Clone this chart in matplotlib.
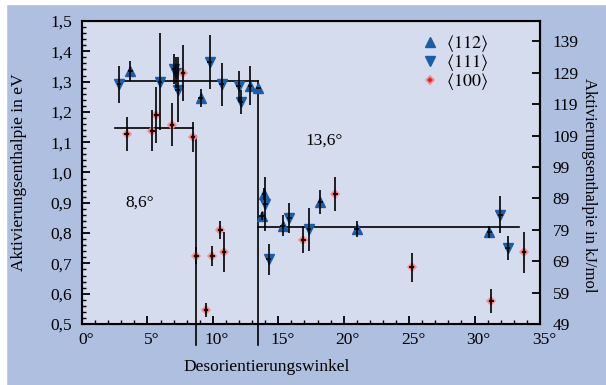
import matplotlib
matplotlib.use("Agg")
import matplotlib.pyplot as plt
import matplotlib.transforms as mtransforms
from matplotlib.ticker import MultipleLocator, FuncFormatter
from matplotlib.patches import Rectangle

plt.rcParams['font.family'] = ['Liberation Serif', 'DejaVu Serif']
plt.rcParams['mathtext.fontset'] = 'stix'

# <112> tilt boundaries (up triangles)
x112 = [3.69, 9.07, 12.84, 13.48, 13.74, 13.9, 15.34, 18.2, 21.0, 31.14]
y112 = [1.335, 1.246, 1.287, 1.279, 0.856, 0.928, 0.824, 0.903, 0.813, 0.804]
e112 = [0.034, 0.03, 0.064, 0.0, 0.012, 0.02, 0.035, 0.04, 0.026, 0.02]

# <111> (down triangles)
x111 = [2.83, 5.96, 7.03, 7.2, 7.3, 9.76, 10.68, 11.98, 12.16, 14.0, 14.27, 15.85, 17.35, 31.98, 32.54]
y111 = [1.291, 1.30, 1.342, 1.33, 1.273, 1.364, 1.291, 1.284, 1.232, 0.896, 0.713, 0.85, 0.812, 0.861, 0.751]
e111 = [0.06, 0.16, 0.05, 0.05, 0.107, 0.09, 0.07, 0.05, 0.04, 0.09, 0.05, 0.05, 0.07, 0.06, 0.04]

# <100> (red diamonds)
x100 = [3.41, 5.38, 5.68, 6.88, 7.72, 8.49, 8.74, 9.48, 9.96, 10.58, 10.86, 16.92, 19.37, 25.2, 31.27, 33.77]
y100 = [1.127, 1.138, 1.189, 1.158, 1.329, 1.118, 0.726, 0.546, 0.726, 0.809, 0.738, 0.778, 0.928, 0.687, 0.577, 0.737]
e100 = [0.056, 0.067, 0.093, 0.07, 0.092, 0.05, 0.027, 0.023, 0.033, 0.03, 0.066, 0.045, 0.056, 0.047, 0.04, 0.068]

# mean levels (y, x start, x end) and transition angles
levels = [(1.303, 2.65, 13.45), (1.146, 2.5, 8.5), (0.819, 13.45, 33.4)]
transitions = [(8.7, 1.12, '8,6°', 4.4, 0.90), (13.45, 1.303, '13,6°', 18.5, 1.105)]

blue = '#1a5ea8'
red = '#e8202a'
fig_bg = '#afbfe0'
ax_bg = '#d5dcee'

fig = plt.figure(figsize=(6.06, 3.85), dpi=100)
fig.patch.set_facecolor(fig_bg)
# thin white margin on left and top
fig.patches.append(Rectangle((0, 0), 6 / 606, 1, transform=fig.transFigure, color='white', zorder=-1))
fig.patches.append(Rectangle((0, 1 - 4 / 385), 1, 4 / 385, transform=fig.transFigure, color='white', zorder=-1))

ax = fig.add_axes([82 / 606, 61 / 385, 458 / 606, 303 / 385])
ax.set_facecolor(ax_bg)
ax.set_xlim(0, 35)
ax.set_ylim(0.5, 1.5)

for y, x0, x1 in levels:
    ax.plot([x0, x1], [y, y], color='black', lw=1.2, zorder=2)
for xv, ytop, lab, tx, ty in transitions:
    ax.plot([xv, xv], [ytop, 0.43], color='black', lw=1.2, zorder=2, clip_on=False)
    ax.text(tx, ty, lab, fontsize=12.5, ha='center', va='center')

err_kw = dict(fmt='none', ecolor='black', elinewidth=1.2, capsize=0, zorder=4)
ax.errorbar(x112, y112, yerr=e112, xerr=0.18, **err_kw)
ax.errorbar(x111, y111, yerr=e111, xerr=0.18, **err_kw)
ax.errorbar(x100, y100, yerr=e100, xerr=0.18, **err_kw)

ax.plot(x112, y112, '^', color=blue, ms=7, mec=blue, ls='none', zorder=3, label=r'$\langle112\rangle$')
ax.plot(x111, y111, 'v', color=blue, ms=7, mec=blue, ls='none', zorder=3, label=r'$\langle111\rangle$')
ax.plot(x100, y100, 'D', color=red, ms=4.5, mec='#f49090', mew=1.2, ls='none', zorder=3, label=r'$\langle100\rangle$')

ax.legend(loc='upper left', bbox_to_anchor=(0.722, 0.99), frameon=False, fontsize=13,
          handlelength=0.9, handletextpad=0.45, labelspacing=-0.1, borderpad=0)

ax.xaxis.set_major_locator(MultipleLocator(5))
ax.xaxis.set_minor_locator(MultipleLocator(1))
ax.yaxis.set_major_locator(MultipleLocator(0.1))
ax.yaxis.set_minor_locator(MultipleLocator(0.02))
ax.xaxis.set_major_formatter(FuncFormatter(lambda v, p: f'{v:.0f}°'))
ax.yaxis.set_major_formatter(FuncFormatter(lambda v, p: f'{v:.1f}'.replace('.', ',')))
ax.tick_params(which='major', direction='in', length=6, width=1.3, labelsize=12.5, top=False, right=False)
ax.tick_params(axis='x', which='major', pad=6)
ax.tick_params(axis='y', which='major', pad=7)
ax.tick_params(which='minor', direction='in', length=3, width=1.0, top=False, right=False)
for s in ax.spines.values():
    s.set_linewidth(1.5)

# shift x tick labels so the digits sit over the ticks
shift = mtransforms.ScaledTranslation(4 / 100, 0, fig.dpi_scale_trans)
for lbl in ax.get_xticklabels():
    lbl.set_transform(lbl.get_transform() + shift)

ax.set_xlabel('Desorientierungswinkel', fontsize=12.5)
ax.xaxis.set_label_coords(0.404, -0.115)
ax.set_ylabel('Aktivierungsenthalpie in eV', fontsize=12.5)
ax.yaxis.set_label_coords(-0.12, 0.5)

ax2 = ax.twinx()
ax2.set_ylim(49, 49 + 96.5)
ax2.set_yticks(range(49, 140, 10))
ax2.tick_params(direction='in', length=6, width=1.3, labelsize=12.5, pad=9)
ax2.spines['right'].set_linewidth(1.5)
fig.text(589 / 606, 1 - 185 / 385, 'Aktivierungsenthalpie in kJ/mol', fontsize=12,
         rotation=-90, ha='center', va='center')

fig.savefig('out.png', dpi=100, facecolor=fig.get_facecolor())
